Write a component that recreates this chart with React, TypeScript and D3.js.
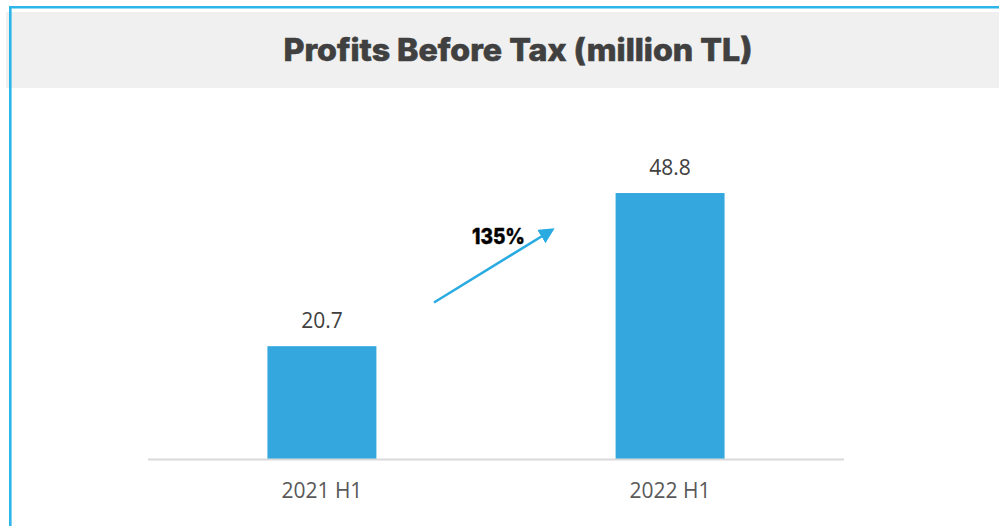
import React from "react";
import * as d3 from "d3";

const categories = ["2021 H1", "2022 H1"];
const values = [20.7, 48.8];
const valueLabels = ["20.7", "48.8"];
const growthLabel = "135%";
const title = "Profits Before Tax (million TL)";

const W = 999;
const H = 526;

export default function App() {
  const x = d3
    .scaleBand<string>()
    .domain(categories)
    .range([148, 844])
    .paddingInner(0.687)
    .paddingOuter(0.343);
  const y = d3.scaleLinear().domain([0, 60]).range([459, 132]);
  const blue = "#2bb5e8";

  return (
    <div style={{ position: "absolute", left: 0, top: 0 }}>
      <svg width={W} height={H} style={{ display: "block" }}>
        <defs>
          <marker
            id="arrowhead"
            viewBox="0 0 10 10"
            refX="8"
            refY="5"
            markerWidth="6"
            markerHeight="6"
            orient="auto"
            markerUnits="strokeWidth"
          >
            <path d="M0,0 L10,5 L0,10 Z" fill="#29abe2" />
          </marker>
        </defs>
        <rect x={0} y={0} width={W} height={H} fill="#ffffff" />
        {/* title band */}
        <rect x={6} y={12} width={W - 6} height={76} fill="#f0f0f0" />
        {/* border */}
        <line x1={9} y1={7.3} x2={W} y2={7.3} stroke={blue} strokeWidth={2.6} />
        <line x1={10.3} y1={6} x2={10.3} y2={H} stroke={blue} strokeWidth={2.6} />
        <text
          x={518}
          y={60.5}
          textAnchor="middle"
          fontFamily="Inter, 'Open Sans', sans-serif"
          fontWeight={800}
          fontSize={31}
          fill="#404040"
          stroke="#404040"
          strokeWidth={0.6}
          textLength={469}
          lengthAdjust="spacingAndGlyphs"
        >
          {title}
        </text>

        {/* bars */}
        {categories.map((c, i) => (
          <g key={c}>
            <rect
              x={x(c)!}
              y={y(values[i])}
              width={x.bandwidth()}
              height={y(0) - y(values[i])}
              fill="#34a8de"
            />
            <text
              x={x(c)! + x.bandwidth() / 2}
              y={y(values[i]) - 18.5}
              textAnchor="middle"
              fontFamily="'Open Sans', sans-serif"
              fontSize={21}
              fill="#404040"
            >
              {valueLabels[i]}
            </text>
            <text
              x={x(c)! + x.bandwidth() / 2}
              y={497.7}
              textAnchor="middle"
              fontFamily="'Open Sans', sans-serif"
              fontSize={21}
              fill="#595959"
            >
              {c}
            </text>
          </g>
        ))}

        {/* axis line */}
        <line x1={148} y1={459.5} x2={844} y2={459.5} stroke="#d9d9d9" strokeWidth={2} />

        {/* growth arrow */}
        <line
          x1={434}
          y1={302.5}
          x2={552}
          y2={230}
          stroke="#29abe2"
          strokeWidth={2.6}
          markerEnd="url(#arrowhead)"
        />
        <text
          x={498.5}
          y={244}
          textAnchor="middle"
          fontFamily="Inter, 'Open Sans', sans-serif"
          fontWeight={800}
          fontSize={21}
          fill="#000000"
          stroke="#000000"
          strokeWidth={0.4}
          textLength={53}
          lengthAdjust="spacingAndGlyphs"
        >
          {growthLabel}
        </text>
      </svg>
    </div>
  );
}
